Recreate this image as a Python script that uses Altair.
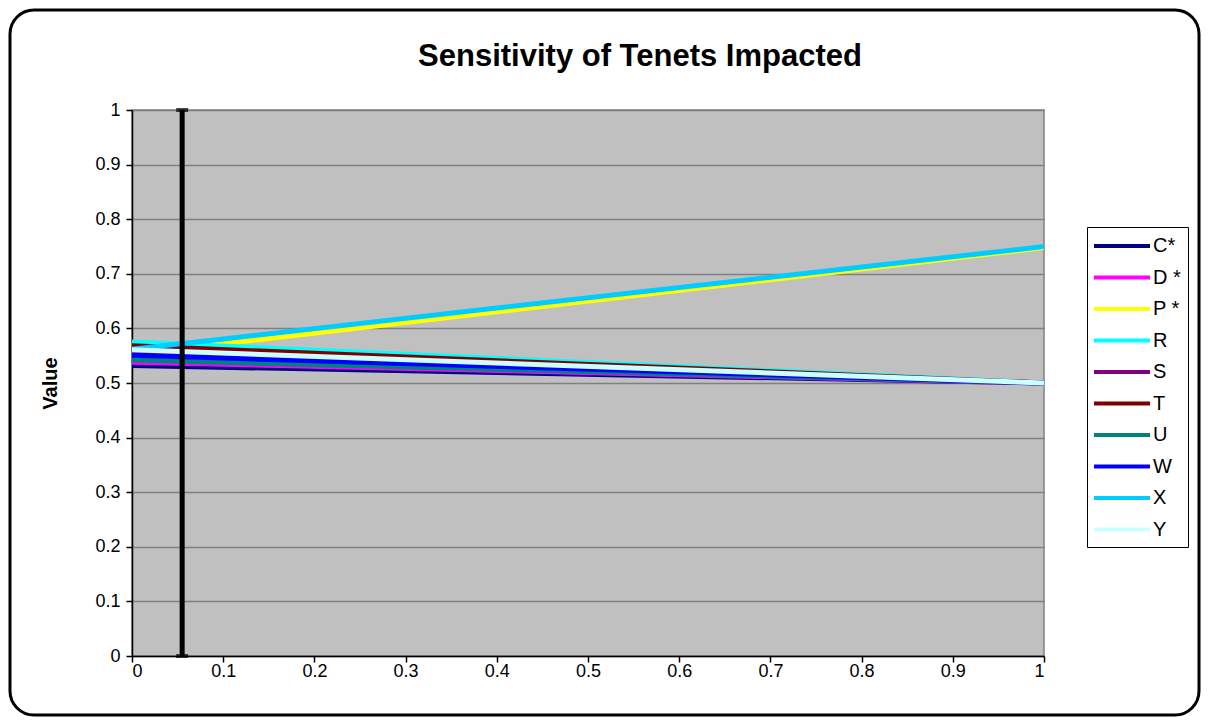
import altair as alt
import pandas as pd

series = ["C*", "D *", "P *", "R", "S", "T", "U", "W", "X", "Y"]
colors = ["#000080", "#FF00FF", "#FFFF00", "#00FFFF", "#800080",
          "#800000", "#008080", "#0000FF", "#00CCFF", "#CCFFFF"]
x_points = [0, 1]
start_vals = [0.532, 0.538, 0.552, 0.575, 0.555, 0.568, 0.542, 0.551, 0.562, 0.561]
end_vals = [0.5, 0.5, 0.748, 0.5, 0.5, 0.5, 0.5, 0.5, 0.75, 0.5]

bar_x = [0.055]
bar_low = [0.0]
bar_high = [1.0]

x_ticks = [0, 0.1, 0.2, 0.3, 0.4, 0.5, 0.6, 0.7, 0.8, 0.9, 1]
y_ticks = [0, 0.1, 0.2, 0.3, 0.4, 0.5, 0.6, 0.7, 0.8, 0.9, 1]

title_text = "Sensitivity of Tenets Impacted"

rows = []
for i, s in enumerate(series):
    rows.append({"series": s, "order": i, "x": x_points[0], "value": start_vals[i]})
    rows.append({"series": s, "order": i, "x": x_points[1], "value": end_vals[i]})
df = pd.DataFrame(rows)
bar_df = pd.DataFrame({"x": bar_x, "low": bar_low, "high": bar_high})

FONT = "Liberation Sans"

xscale = alt.Scale(domain=[0, 1], nice=False, zero=False)
yscale = alt.Scale(domain=[0, 1], nice=False, zero=False)

lines = alt.Chart(df).mark_line(strokeWidth=5, clip=True).encode(
    x=alt.X("x:Q", scale=xscale, title=None,
            axis=alt.Axis(values=x_ticks, format=".1~f", grid=False,
                          domainColor="#000000", tickColor="#000000",
                          tickSize=6, labelPadding=0)),
    y=alt.Y("value:Q", scale=yscale, title="Value",
            axis=alt.Axis(values=y_ticks, format=".1~f", grid=True,
                          gridColor="#808080", gridWidth=1.3,
                          domainColor="#000000", tickColor="#000000",
                          tickSize=6, labelPadding=6,
                          titleFontWeight="bold", titleFontSize=20,
                          titleX=-72, titleY=273)),
    color=alt.Color("series:N",
                    scale=alt.Scale(domain=series, range=colors),
                    sort=series,
                    legend=alt.Legend(title=None, orient="none",
                                      legendX=955, legendY=117,
                                      symbolType="M-1.2,0H4.4", symbolSize=400,
                                      symbolStrokeWidth=4,
                                      labelFontSize=20, labelFont=FONT,
                                      labelColor="#000000",
                                      strokeColor="#000000", fillColor="#FFFFFF",
                                      padding=7, rowPadding=9.5,
                                      labelOffset=35)),
    order=alt.Order("order:Q"),
    detail="series:N",
)

rule = alt.Chart(bar_df).mark_rule(color="#000000", strokeWidth=5).encode(
    x="x:Q", y="low:Q", y2="high:Q"
)
cap_low = alt.Chart(bar_df).mark_tick(color="#000000", orient="horizontal",
                                      size=12, thickness=4).encode(
    x="x:Q", y="low:Q"
)
cap_high = alt.Chart(bar_df).mark_tick(color="#000000", orient="horizontal",
                                       size=12, thickness=4).encode(
    x="x:Q", y="high:Q"
)

one = pd.DataFrame({"k": [0]})
frame = alt.Chart(one).mark_rect(
    filled=False, stroke="#000000", strokeWidth=3, cornerRadius=24
).encode(
    x=alt.value(-122), x2=alt.value(1067),
    y=alt.value(-100), y2=alt.value(605),
)

title = alt.Chart(one).mark_text(
    text=title_text, font=FONT, fontSize=31, fontWeight="bold",
    color="#000000", align="center", baseline="alphabetic"
).encode(x=alt.value(508), y=alt.value(-44))

chart = alt.layer(frame, lines, rule, cap_low, cap_high, title).properties(
    width=912, height=546,
    background="#FFFFFF",
    autosize=alt.AutoSizeParams(type="none"),
    padding={"left": 124, "top": 102, "right": 157, "bottom": 61},
).configure_view(
    fill="#C0C0C0", stroke="#808080", strokeWidth=1.5
).configure_axis(
    labelFont=FONT, labelFontSize=18, labelColor="#000000",
    titleFont=FONT, titleColor="#000000", domainWidth=1.5, tickWidth=1.5,
)

chart.save("out.html", embed_options={"renderer": "svg", "actions": False})
